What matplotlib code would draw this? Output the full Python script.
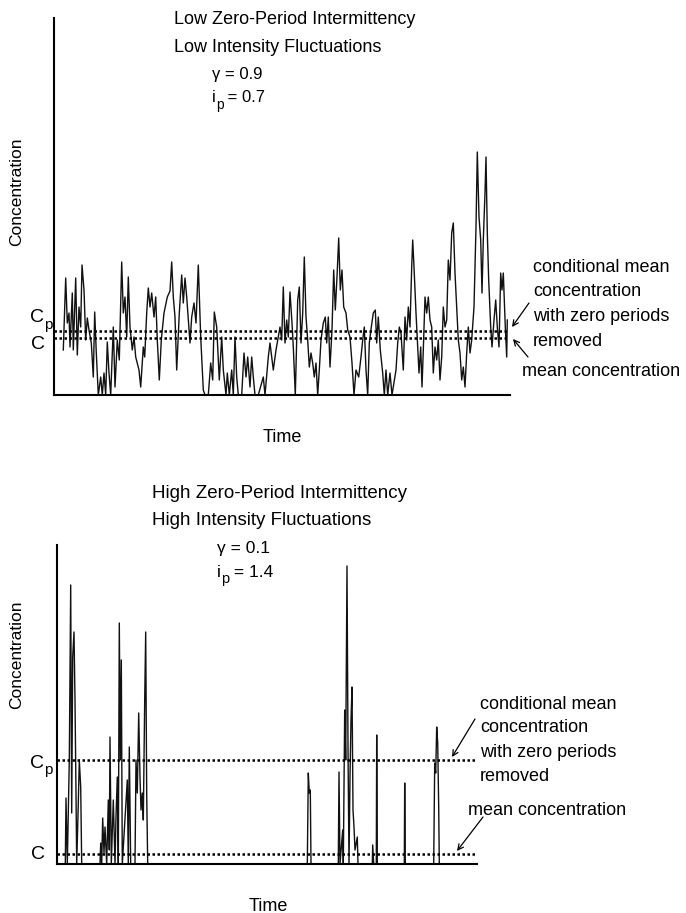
import numpy as np
import matplotlib
matplotlib.use("Agg")
import matplotlib.pyplot as plt

plt.rcParams['font.family'] = ['Liberation Sans', 'DejaVu Sans']

# ---- data (arbitrary concentration units, time in arbitrary units) ----
top_time = [9.3, 11.7, 13.3, 15, 16, 18.3, 19.3, 21.7, 23.3, 25, 26.7, 28, 30, 31.7, 33.3, 35,
            37.3, 39.3, 40.7, 42.3, 44.3, 46.7, 48.3, 50, 51.7, 53.3, 55, 56.7, 59.3, 61, 63.3,
            65.3, 67.7, 69.3, 71, 72.7, 74.3, 76, 78.3, 80, 81.7, 85, 86.7, 89.3, 90.7, 92.7,
            94.3, 96, 97.7, 100, 101.7, 103.3, 105.3, 107.3, 110, 113.3, 116, 117.7, 119.3, 121,
            122.7, 125.3, 127.7, 129.3, 131, 132.7, 134.3, 136, 137.7, 140, 142, 144.3, 146.7,
            149.3, 151, 154.3, 156.7, 158.7, 160.3, 162.7, 165.3, 167.7, 169.3, 172, 173.3, 175.3,
            177.7, 179.3, 181, 182.7, 184.3, 187.7, 190, 192, 193.7, 196, 197.7, 199.3, 201, 204.3,
            209.3, 211, 214.3, 216, 217.7, 219.3, 222, 224.3, 226, 227.7, 229.3, 231, 232.7, 234.3,
            236, 238, 239.3, 241.3, 243.7, 245.3, 247, 248.7, 250.3, 252, 253.7, 255.3, 257, 258.7,
            260.3, 262, 263.7, 265.3, 267, 269.3, 271.3, 272.7, 274.3, 276, 278, 279.7, 281.3, 283,
            284.7, 286.3, 288, 289.7, 292, 293.7, 296, 298, 300, 302, 304.7, 307, 308.7, 310.3, 312,
            313.7, 315.3, 317.3, 319.3, 321.3, 322.7, 324.3, 326.3, 328.7, 330.3, 332, 333.7, 336,
            338, 342, 343.7, 345.3, 347, 349.3, 351, 352.7, 354.3, 356, 357.7, 358.7, 360, 362,
            363.3, 365, 366.7, 368, 369.3, 371, 372.7, 374.3, 376, 377.7, 379.3, 381, 382.7, 384.3,
            386, 387.7, 389.3, 391, 392.7, 394.3, 396, 397.7, 399.3, 401, 402.7, 404.3, 406, 407.7,
            409.3, 411, 412.7, 414.3, 416, 417.7, 420, 422, 423.3, 425, 426.7, 428, 429.3, 431, 432,
            433.3, 434.7, 436.7, 438, 440, 441.7, 443.3, 445, 446.7, 448, 449.3, 451.3, 452.7, 453.3]
top_conc = [4.5, 11.7, 7.2, 8.2, 4.8, 10.2, 4.5, 11.7, 4.0, 8.8, 6.8, 13.0, 10.5, 5.5, 7.7, 6.5,
            5.2, 1.8, 8.3, 4.2, 0, 1.8, 0, 2.2, 0, 5.3, 2.2, 0, 6.8, 0.8, 5.5,
            3.5, 13.3, 8.2, 9.8, 5.8, 11.8, 6.8, 4.5, 5.8, 3.8, 2.5, 0.8, 4.8, 3.8, 8.2,
            10.7, 8.8, 10.2, 7.8, 9.8, 5.5, 1.5, 5.5, 8.2, 9.8, 10.4, 13.3, 9.8, 7.8,
            2.5, 8.2, 12.0, 9.2, 11.7, 9.8, 7.5, 5.2, 7.8, 9.2, 7.2, 13.0, 5.8,
            0.5, 0, 0, 3.2, 1.5, 8.3, 6.8, 1.5, 5.8, 2.5, 0, 2.2, 0,
            2.5, 0, 5.8, 1.8, 0, 0, 4.2, 1.8, 3.8, 0.8, 3.8, 1.8, 0, 0,
            1.8, 0, 3.8, 5.2, 3.8, 2.5, 4.5, 5.8, 6.8, 5.5, 10.8, 5.2, 7.5, 5.8,
            10.3, 7.2, 4.8, 0, 9.5, 10.8, 5.2, 8.2, 13.8, 7.8, 5.5, 2.8, 4.2, 3.2,
            1.8, 3.2, 0, 2.5, 5.5, 7.2, 7.8, 5.2, 7.8, 2.8, 6.5, 12.5, 8.5, 11.8,
            15.7, 10.5, 12.5, 8.8, 8.2, 6.5, 5.8, 3.2, 0, 2.5, 1.8, 3.8, 5.5, 6.8, 2.5,
            0, 5.2, 6.8, 8.2, 8.5, 5.2, 7.8, 4.5, 2.2, 0, 2.5, 0, 2.2,
            0, 2.5, 5.2, 6.8, 6.2, 2.5, 7.8, 5.5, 8.8, 6.8, 12.8, 15.5, 12.8, 8.2,
            5.5, 2.2, 4.8, 0.8, 4.5, 9.8, 8.2, 9.8, 7.5, 6.8, 2.2, 4.8, 3.5, 5.5,
            1.5, 3.8, 8.8, 6.8, 7.5, 13.5, 11.5, 16.2, 17.2, 12.2, 8.8, 5.5, 4.2, 1.5,
            2.8, 0.8, 4.2, 6.8, 4.2, 5.5, 8.8, 16.8, 24.3, 17.8, 15.5, 10.2, 15.5, 20.2, 23.8,
            16.2, 11.5, 6.8, 4.8, 7.5, 9.5, 6.8, 4.8, 12.2, 10.5, 12.2, 6.8, 3.8, 7.5]
top_mean = 5.7
top_cond_mean = 6.4

bot_time = [0, 8.3, 9.0, 10.3, 12.3, 13.7, 14.7, 15.7, 17.0, 18.0, 19.0, 19.7, 21.3, 22.3, 23.7,
            24.7, 43.0, 43.7, 44.7, 45.7, 47.0, 48.0, 49.7, 51.3, 52.3, 53.0, 54.3, 56.3, 58.0,
            59.0, 60.3, 61.3, 62.3, 63.3, 64.3, 65.3, 70.3, 71.3, 72.3, 73.7, 78.0, 79.0, 80.3,
            81.7, 83.0, 84.0, 85.3, 86.3, 87.7, 88.7, 89.7, 90.7, 250.3, 251.3, 252.3, 253.3,
            254.0, 281.3, 282.0, 283.0, 285.7, 286.3, 287.7, 288.7, 290.0, 291.0, 292.0, 293.0,
            294.0, 295.0, 296.0, 297.0, 298.0, 300.3, 301.0, 315.3, 315.7, 316.7, 319.3, 319.7,
            320.3, 347.3, 347.7, 348.3, 376.7, 377.7, 378.7, 379.7, 380.7, 381.7, 382.3, 420]
bot_conc = [0, 0, 6.6, 0, 10.4, 27.9, 5.1, 20.7, 23.2, 16.4, 7.1, 0, 6.1, 10.4, 7.7,
            0, 0, 2.1, 0, 4.6, 1.1, 3.7, 0, 6.4, 1.4, 12.7, 0, 6.4, 0,
            4.7, 8.7, 0, 24.1, 10.4, 20.4, 0, 8.4, 0, 11.7, 0, 0, 10.4, 7.1,
            15.1, 8.7, 5.4, 7.1, 4.4, 16.4, 23.2, 7.1, 0, 0, 9.1, 7.1, 7.4,
            0, 0, 9.2, 0, 3.4, 0, 15.4, 10.4, 29.8, 11.7, 0, 8.7,
            14.4, 17.7, 5.4, 3.7, 1.4, 2.7, 0, 0, 1.9, 0, 0, 12.9,
            0, 0, 8.1, 0, 0, 10.1, 9.1, 13.7, 12.1, 5.7, 0, 0]
bot_mean = 1.0
bot_cond_mean = 10.4

W, H = 686, 913


def px(x, y):
    # pixel position (from top-left) -> figure fraction
    return x / W, 1 - y / H


fig = plt.figure(figsize=(W / 100, H / 100), dpi=100)
renderer = fig.canvas.get_renderer()


def sub_text(x, y, main, sub, rest, fs, sub_fs, drop):
    # main text, lowered subscript, then the rest, placed one after another
    t = fig.text(*px(x, y), main, fontsize=fs, va='center', ha='left')
    x_end = t.get_window_extent(renderer).x1
    s = fig.text(x_end / W, 1 - (y + drop) / H, sub, fontsize=sub_fs, va='center', ha='left')
    if rest:
        x_end = s.get_window_extent(renderer).x1
        fig.text(x_end / W, 1 - y / H, rest, fontsize=fs, va='center', ha='left')


panels = [
    dict(rect=(54, 18, 510, 395), t=top_time, c=top_conc, mean=top_mean, cmean=top_cond_mean,
         xmax=456, ymax=37.7, title=('Low Zero-Period Intermittency', 'Low Intensity Fluctuations'),
         gamma='0.9', ip='0.7', title_xy=(174, 20), par_xy=(212, 74), fs=13,
         cp_lbl=(30, 318), c_lbl=(31, 344), ylab=(17, 192), time=(282, 437),
         ann_x=533, ann_y=(268, 292, 316, 342), mean_xy=(522, 372),
         arr1=((529, 303), (512, 327)), arr2=((528, 357), (513, 339)), line_end=0.995),
    dict(rect=(57, 545, 477, 864), t=bot_time, c=bot_conc, mean=bot_mean, cmean=bot_cond_mean,
         xmax=420, ymax=31.9, title=('High Zero-Period Intermittency', 'High Intensity Fluctuations'),
         gamma='0.1', ip='1.4', title_xy=(152, 493), par_xy=(217, 548), fs=13.5,
         cp_lbl=(30, 763), c_lbl=(31, 854), ylab=(17, 655), time=(268, 906),
         ann_x=480, ann_y=(704, 728, 752, 776), mean_xy=(468, 810),
         arr1=((475, 719), (452, 757)), arr2=((483, 817), (457, 851)), line_end=1.0),
]

for p in panels:
    x0, y0, x1, y1 = p['rect']
    ax = fig.add_axes([x0 / W, 1 - y1 / H, (x1 - x0) / W, (y1 - y0) / H])
    ax.plot(p['t'], p['c'], color='#111111', lw=1.0)
    ax.axhline(p['cmean'], xmax=p['line_end'], color='black', lw=1.8, ls=(0, (1, 1)))
    ax.axhline(p['mean'], xmax=p['line_end'], color='black', lw=1.8, ls=(0, (1, 1)))
    ax.set_xlim(0, p['xmax'])
    ax.set_ylim(0, p['ymax'])
    ax.set_xticks([])
    ax.set_yticks([])
    for s in ['top', 'right']:
        ax.spines[s].set_visible(False)
    for s in ['left', 'bottom']:
        ax.spines[s].set_linewidth(1.5)

    fs = p['fs']
    tx, ty = p['title_xy']
    fig.text(*px(tx, ty), p['title'][0], fontsize=fs, va='center', ha='left')
    fig.text(*px(tx, ty + 27), p['title'][1], fontsize=fs, va='center', ha='left')
    gx, gy = p['par_xy']
    fig.text(*px(gx, gy), 'γ = ' + p['gamma'], fontsize=fs - 1, va='center', ha='left')
    sub_text(gx, gy + 24, 'i', 'p', ' = ' + p['ip'], fs - 1, fs - 3, 7)

    sub_text(*p['cp_lbl'], 'C', 'p', '', 14, 11, 7)
    fig.text(*px(*p['c_lbl']), 'C', fontsize=14, va='center', ha='left')
    fig.text(*px(*p['ylab']), 'Concentration', fontsize=12.5, rotation=90, va='center', ha='center')
    fig.text(*px(*p['time']), 'Time', fontsize=13, va='center', ha='center')

    lines = ['conditional mean', 'concentration', 'with zero periods', 'removed']
    for txt, yy in zip(lines, p['ann_y']):
        fig.text(*px(p['ann_x'], yy), txt, fontsize=13, va='center', ha='left')
    fig.text(*px(*p['mean_xy']), 'mean concentration', fontsize=13, va='center', ha='left')

    for (tail, tip) in (p['arr1'], p['arr2']):
        ax.annotate('', xy=px(*tip), xytext=px(*tail), xycoords='figure fraction',
                    textcoords='figure fraction', annotation_clip=False,
                    arrowprops=dict(arrowstyle='->', color='black', lw=0.9,
                                    mutation_scale=10, shrinkA=0, shrinkB=0))

fig.savefig('out.png', dpi=100)
